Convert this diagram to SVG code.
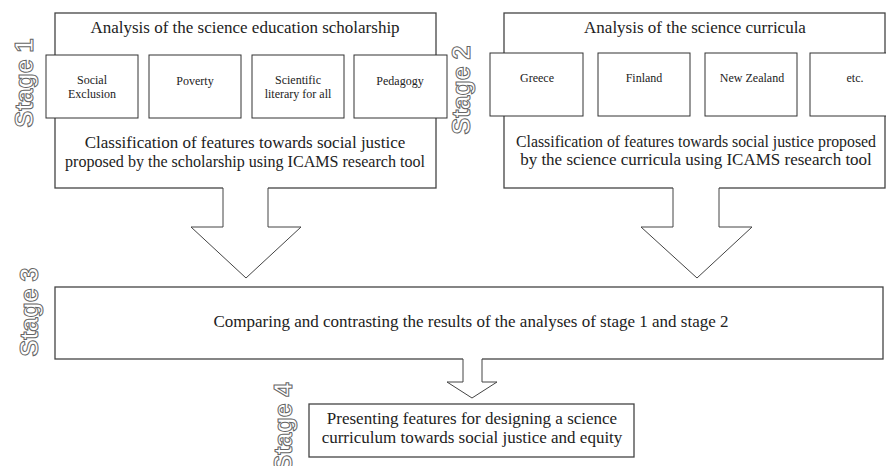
<svg xmlns="http://www.w3.org/2000/svg" width="886" height="466" viewBox="0 0 886 466">
<style>
.box{fill:#fff;stroke:#444;stroke-width:1.3}
.sub{fill:#fff;stroke:#333;stroke-width:1}
.t{font-family:'Liberation Serif','DejaVu Serif',serif;font-size:17px;fill:#222;text-anchor:middle}
.s{font-family:'Liberation Serif','DejaVu Serif',serif;font-size:12px;fill:#222;text-anchor:middle}
.stage{font-family:'Liberation Sans',Arial,sans-serif;font-weight:bold;font-size:25px;fill:#fff;stroke:#666;stroke-width:1;text-anchor:middle}
.arrowfill{fill:#fff;stroke:none}
.arrowline{fill:none;stroke:#444;stroke-width:1}
</style>
<rect width="886" height="466" fill="#fff"/>

<g id="stage1">
  <rect class="box" x="55" y="13" width="381" height="175"/>
  <text class="t" x="245" y="33">Analysis of the science education scholarship</text>
  <g id="s1-social"><rect class="sub" x="46" y="55" width="92" height="63"/><text class="s" x="92" y="84">Social</text><text class="s" x="92" y="97.5">Exclusion</text></g>
  <g id="s1-poverty"><rect class="sub" x="149" y="55" width="92" height="63"/><text class="s" x="195" y="85">Poverty</text></g>
  <g id="s1-scientific"><rect class="sub" x="252" y="55" width="92" height="63"/><text class="s" x="298" y="84">Scientific</text><text class="s" x="298" y="97.5">literary for all</text></g>
  <g id="s1-pedagogy"><rect class="sub" x="354" y="55" width="93" height="63"/><text class="s" x="400" y="85">Pedagogy</text></g>
  <text class="t" x="245" y="148">Classification of features towards social justice</text>
  <text class="t" x="245" y="167" style="font-size:16px" textLength="360" lengthAdjust="spacingAndGlyphs">proposed by the scholarship using ICAMS research tool</text>
  <text class="stage" transform="translate(33,83) rotate(-90)">Stage 1</text>
</g>

<g id="stage2">
  <rect class="box" x="504" y="13" width="381" height="175"/>
  <text class="t" x="695" y="33">Analysis of the science curricula</text>
  <g id="s2-greece"><rect class="sub" x="490" y="53" width="93" height="63"/><text class="s" x="537" y="82">Greece</text></g>
  <g id="s2-finland"><rect class="sub" x="598" y="53" width="92" height="63"/><text class="s" x="644" y="82">Finland</text></g>
  <g id="s2-nz"><rect class="sub" x="705" y="53" width="92" height="63"/><text class="s" x="752" y="82">New Zealand</text></g>
  <g id="s2-etc"><rect class="sub" x="810" y="53" width="93" height="63"/><text class="s" x="855" y="82">etc.</text></g>
  <text class="t" x="696" y="147" style="font-size:16px" textLength="360" lengthAdjust="spacingAndGlyphs">Classification of features towards social justice proposed</text>
  <text class="t" x="696" y="165">by the science curricula using ICAMS research tool</text>
  <text class="stage" transform="translate(470,90) rotate(-90)">Stage 2</text>
</g>

<g id="stage3">
  <rect class="box" x="55" y="287" width="828" height="72"/>
  <text class="t" x="471" y="327">Comparing and contrasting the results of the analyses of stage 1 and stage 2</text>
  <text class="stage" transform="translate(38,312) rotate(-90)">Stage 3</text>
</g>

<g id="stage4">
  <rect class="box" x="309" y="404" width="325" height="53"/>
  <text class="t" x="472" y="424">Presenting features for designing a science</text>
  <text class="t" x="472" y="443">curriculum towards social justice and equity</text>
  <text class="stage" transform="translate(292,427) rotate(-90)">Stage 4</text>
</g>

<g id="connectors">
  <polygon class="arrowfill" points="223,187 268,187 268,227 301,227 246,278 191,227 223,227"/>
  <polyline class="arrowline" points="223,188 223,227 191,227 246,278 301,227 268,227 268,188"/>
  <polygon class="arrowfill" points="673,187 719,187 719,227 752,227 697,278 641,227 673,227"/>
  <polyline class="arrowline" points="673,188 673,227 641,227 697,278 752,227 719,227 719,188"/>
  <polygon class="arrowfill" points="463,358 482,358 482,382 497,382 472,398 447,382 463,382"/>
  <polyline class="arrowline" points="463,359 463,382 447,382 472,398 497,382 482,382 482,359"/>
</g>
</svg>
